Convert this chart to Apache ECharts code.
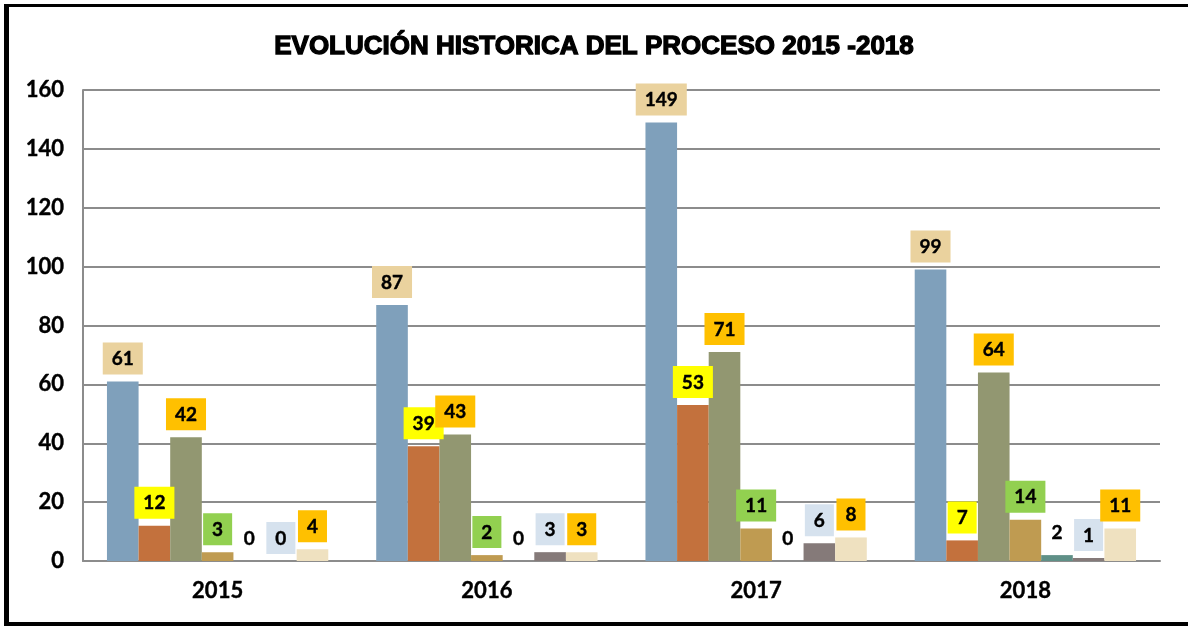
<!DOCTYPE html>
<html>
<head>
<meta charset="utf-8">
<script src="https://cdn.jsdelivr.net/npm/echarts@6/dist/echarts.min.js"></script>
<style>
html,body{margin:0;padding:0;background:#fff;}
#chart{width:1188px;height:626px;}
</style>
</head>
<body>
<div id="chart"></div>
<script>
var categories = ['2015', '2016', '2017', '2018'];
var s1 = [61, 87, 149, 99];
var s2 = [12, 39, 53, 7];
var s3 = [42, 43, 71, 64];
var s4 = [3, 2, 11, 14];
var s5 = [0, 0, 0, 2];
var s6 = [0, 3, 6, 1];
var s7 = [4, 3, 8, 11];
var yTicks = [0, 20, 40, 60, 80, 100, 120, 140, 160];

var seriesData = [s1, s2, s3, s4, s5, s6, s7];
var barColors = ['#7FA0BB', '#C3713D', '#929771', '#BF9B51', '#5F9087', '#857A79', '#EFE1C0'];
var labelBg = ['#EAD29E', '#FFFF00', '#FFC000', '#92D050', 'transparent', '#D6E2EE', '#FFC000'];

var chart = echarts.init(document.getElementById('chart'));
var series = seriesData.map(function (d, i) {
  return {
    type: 'bar',
    data: d,
    barGap: '0%',
    barCategoryGap: '17.8%',
    itemStyle: { color: barColors[i] },
    label: {
      show: true,
      position: 'top',
      distance: 7,
      color: '#000',
      fontFamily: 'Lato',
      fontWeight: 'bold',
      fontSize: 19,
      textBorderColor: '#000',
      textBorderWidth: 0.4,
      backgroundColor: labelBg[i],
      padding: [7, 9, 6, 9]
    }
  };
});

chart.setOption({
  animation: false,
  backgroundColor: '#fff',
  title: {
    text: 'EVOLUCIÓN HISTORICA DEL PROCESO 2015 -2018',
    left: 'center',
    top: 29,
    textStyle: {
      fontFamily: 'Liberation Sans',
      fontWeight: 'bold',
      fontSize: 26,
      color: '#000',
      textBorderColor: '#000',
      textBorderWidth: 1.3
    }
  },
  grid: { left: 83, right: 28, top: 90, bottom: 65 },
  xAxis: {
    type: 'category',
    data: categories,
    axisTick: { show: false },
    axisLine: { lineStyle: { color: '#8C8C8C', width: 2 } },
    axisLabel: { color: '#000', fontFamily: 'Lato', fontWeight: 'bold', fontSize: 22, margin: 19, textBorderColor: '#000', textBorderWidth: 0.4 }
  },
  yAxis: {
    type: 'value',
    min: yTicks[0],
    max: yTicks[yTicks.length - 1],
    interval: 20,
    axisLine: { show: true, lineStyle: { color: '#8C8C8C', width: 2 } },
    axisTick: { show: false },
    splitLine: { lineStyle: { color: '#8C8C8C', width: 2 } },
    axisLabel: { color: '#000', fontFamily: 'Lato', fontWeight: 'bold', fontSize: 22, margin: 19, textBorderColor: '#000', textBorderWidth: 0.4 }
  },
  graphic: [
    { type: 'rect', shape: { x: 4, y: 4, width: 1184, height: 3 }, style: { fill: '#000' } },
    { type: 'rect', shape: { x: 4, y: 4, width: 5, height: 622 }, style: { fill: '#000' } },
    { type: 'rect', shape: { x: 4, y: 622, width: 1184, height: 4 }, style: { fill: '#000' } }
  ],
  series: series
});
</script>
</body>
</html>
